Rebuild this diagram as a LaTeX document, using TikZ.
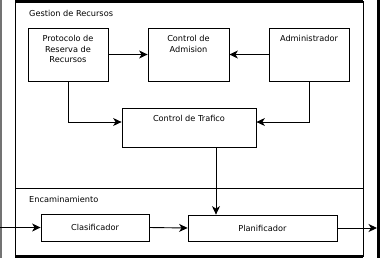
\documentclass[tikz,border=0pt]{standalone}
\usepackage{fontspec}
\setmainfont{DejaVu Sans}
\usetikzlibrary{positioning,arrows.meta,calc}

\begin{document}
\begin{tikzpicture}[
    x=1pt,y=-1pt,
    font=\fontsize{8.2}{10.7}\selectfont,
    box/.style={draw,line width=0.8pt,inner sep=0pt},
    boxtext/.style={anchor=north,align=center,inner sep=0pt},
    title/.style={anchor=west,inner sep=0pt},
    flow/.style={line width=0.9pt,-{Stealth[length=8.5pt,width=8pt,inset=2.5pt]}}
]
\useasboundingbox (0,0) rectangle (380,258);
\fill[white] (0,0) rectangle (380,258);
\fill[black!55] (0,0) rectangle (2,258);
\fill[black] (377,0) rectangle (380,258);

% marco
\draw[line width=0.8pt] (15,1) rectangle (363,256);
\draw[line width=3pt] (15,1.5) -- (363,1.5);
\draw[line width=3pt] (15,256.5) -- (363,256.5);
\draw[line width=0.8pt] (15,188) -- (363,188);

\node[title] (gestion) at (29,13) {Gestion de Recursos};
\node[title] (encam) at (29,199) {Encaminamiento};

\node[box,minimum width=80,minimum height=53] (prr) at (68,54.5) {};
\node[boxtext] (prrtext) at (68,35) {Protocolo de\\Reserva de\\Recursos};
\node[box,minimum width=81,minimum height=53] (ca) at (188.5,54.5) {};
\node[boxtext] (catext) at (188.5,35) {Control de\\Admision};
\node[box,minimum width=80,minimum height=53] (adm) at (309,54.5) {};
\node[boxtext] (admtext) at (309,35) {Administrador};
\node[box,minimum width=134,minimum height=39] (ct) at (189,127.5) {};
\node[boxtext] (cttext) at (189,115) {Control de Trafico};
\node[box,minimum width=108,minimum height=27] (cla) at (95,227.5) {Clasificador};
\node[box,minimum width=149,minimum height=26] (pla) at (262.5,228) {Planificador};

\coordinate (in) at (0,227.5);
\coordinate (out) at (377,228);

\draw[flow] (prr.east) -- (ca.west);
\draw[flow] (adm.west) -- (ca.east);
\draw[flow] (prr.south) |- ([yshift=5.5pt]ct.west);
\draw[flow] (adm.south) |- ([yshift=5.5pt]ct.east);
\draw[flow] ([xshift=27pt]ct.south) -- ([xshift=27pt]ct.south |- pla.north);
\draw[flow] (in) -- (cla.west);
\draw[flow] (cla.east) -- (pla.west);
\draw[flow] (pla.east) -- (out);

\end{tikzpicture}
\end{document}
